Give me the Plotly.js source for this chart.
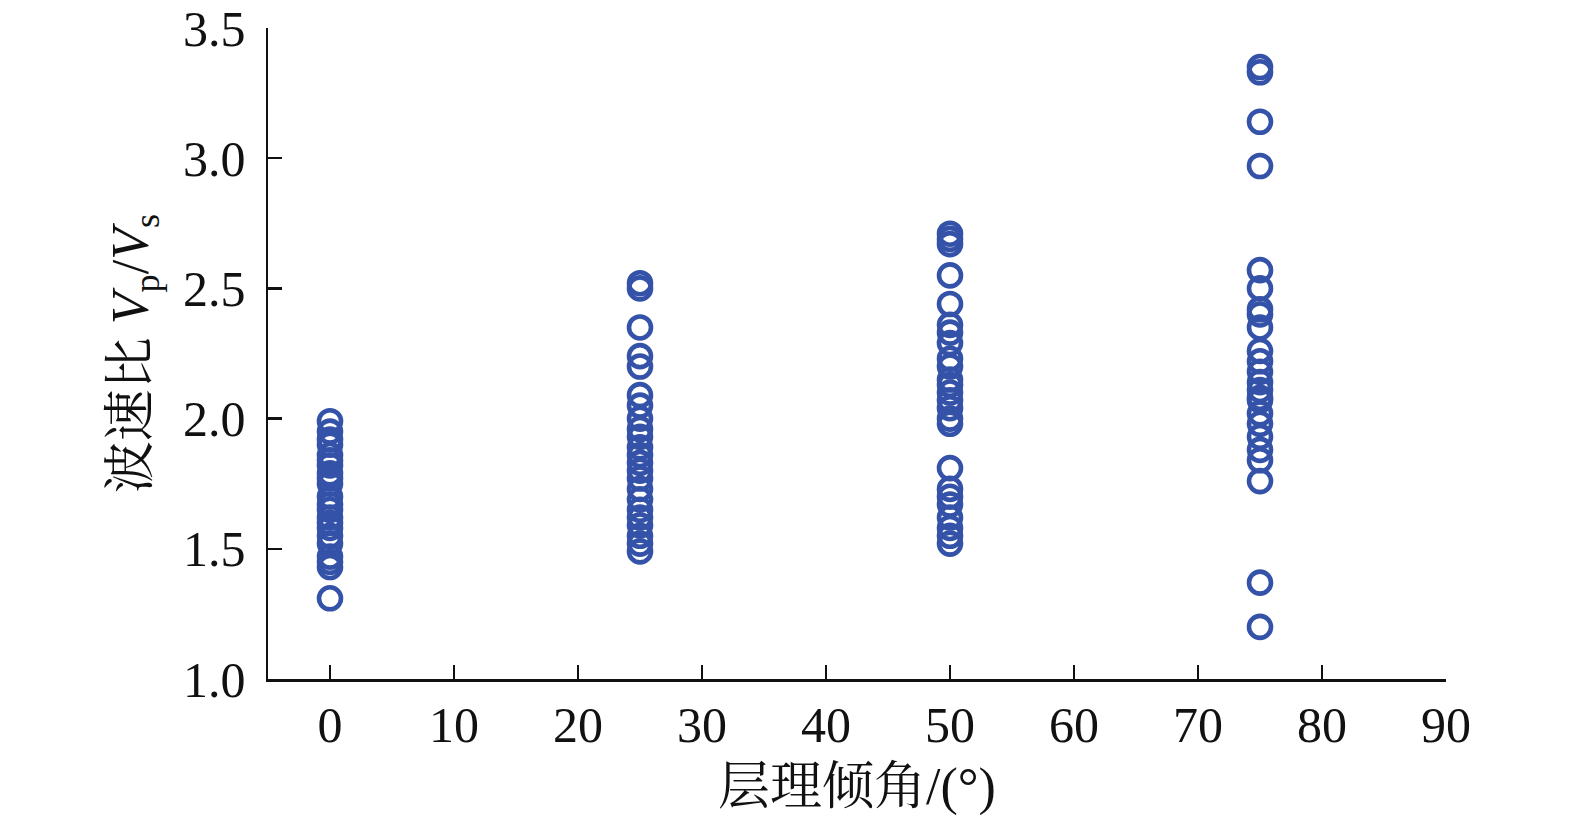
<!DOCTYPE html>
<html><head><meta charset="utf-8">
<script src="https://cdn.plot.ly/plotly-3.0.1.min.js"></script>
<style>html,body{margin:0;padding:0;background:#fff}#c{width:1575px;height:823px}</style>
</head><body><div id="c"></div>
<script>
const angles = [0, 25, 50, 75];
const ratio0 = [1.31,1.43,1.45,1.47,1.52,1.55,1.58,1.60,1.62,1.65,1.67,1.70,1.75,1.77,1.79,1.82,1.84,1.86,1.90,1.92,1.95,1.99];
const ratio25 = [2.52,2.50,2.35,2.24,2.20,2.09,2.05,2.00,1.96,1.93,1.89,1.86,1.83,1.80,1.77,1.73,1.69,1.65,1.62,1.59,1.55,1.52,1.49];
const ratio50 = [2.71,2.69,2.67,2.55,2.44,2.36,2.33,2.29,2.23,2.20,2.15,2.13,2.10,2.07,2.04,2.00,1.98,1.81,1.73,1.70,1.67,1.62,1.58,1.55,1.52];
const ratio75 = [3.35,3.33,3.14,2.97,2.57,2.50,2.42,2.40,2.35,2.26,2.22,2.18,2.14,2.11,2.08,2.07,2.02,1.98,1.93,1.88,1.84,1.76,1.37,1.20];
const series = [ratio0, ratio25, ratio50, ratio75];
const xs = [], ys = [];
series.forEach((arr, i) => arr.forEach(v => { xs.push(angles[i]); ys.push(v); }));
const font = 'Liberation Serif, Times New Roman, Noto Serif CJK SC, Noto Sans CJK SC, serif';
Plotly.newPlot('c', [{
  x: xs, y: ys, type: 'scatter', mode: 'markers',
  marker: {symbol: 'circle-open', size: 22, color: '#3452a8', line: {width: 4.6, color: '#3452a8'}},
  hoverinfo: 'skip'
}], {
  width: 1575, height: 823,
  margin: {l: 268, r: 129, t: 28, b: 144},
  paper_bgcolor: '#fff', plot_bgcolor: '#fff',
  showlegend: false,
  font: {family: font, color: '#111', size: 50},
  xaxis: {
    range: [-5, 90], tickmode: 'linear', tick0: 0, dtick: 10,
    showgrid: false, zeroline: false, showline: true, linecolor: '#111', linewidth: 2.5,
    ticks: 'inside', ticklen: 14, tickwidth: 2.5, tickcolor: '#111',
    tickfont: {family: font, size: 50, color: '#111'},
    title: {text: '层理倾角/(°)', font: {family: font, size: 52, color: '#111'}, standoff: 16}
  },
  yaxis: {
    range: [1, 3.5], tickmode: 'linear', tick0: 1, dtick: 0.5, tickformat: '.1f',
    showgrid: false, zeroline: false, showline: true, linecolor: '#111', linewidth: 2.5,
    ticks: 'inside', ticklen: 14, tickwidth: 2.5, tickcolor: '#111',
    ticklabelstandoff: 10,
    tickfont: {family: font, size: 50, color: '#111'},
    title: {text: '波速比 <i>V</i><sub>p</sub>/<i>V</i><sub>s</sub>', font: {family: font, size: 52, color: '#111'}, standoff: 18}
  }
}, {staticPlot: true});
</script></body></html>
